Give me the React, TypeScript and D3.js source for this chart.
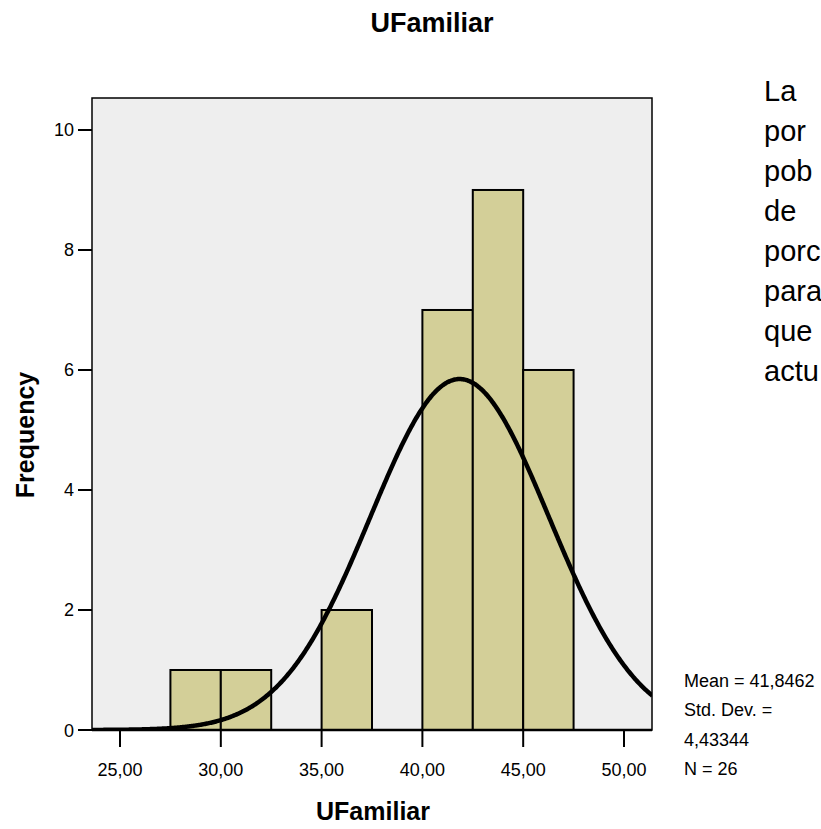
import { useMemo } from 'react';
import * as d3 from 'd3';

// histogram bins (lower edge) and frequencies
const binStarts = [27.5, 30, 35, 40, 42.5, 45];
const counts = [1, 1, 2, 7, 9, 6];
const binWidth = 2.5;

const xTicks = [25, 30, 35, 40, 45, 50];
const yTicks = [0, 2, 4, 6, 8, 10];

const mean = 41.8462;
const stdDev = 4.43344;
const n = 26;

const statLines = ['Mean = 41,8462', 'Std. Dev. =', '4,43344', 'N = 26'];
const sideText = ['La', 'por', 'pob', 'de', 'porc', 'para', 'que', 'actu'];

const W = 821;
const H = 829;
const plot = { left: 92, right: 652, top: 98, bottom: 730 };
const FONT = '"Liberation Sans", Arial, sans-serif';

const esLocale = d3.formatLocale({ decimal: ',', thousands: '.', grouping: [3], currency: ['', ''] });
const fmt2 = esLocale.format('.2f');

export default function App() {
  const x = d3.scaleLinear().domain([23.61, 51.39]).range([plot.left, plot.right]);
  const y = d3.scaleLinear().domain([0, 10.533]).range([plot.bottom, plot.top]);

  const curvePath = useMemo(() => {
    const [x0, x1] = x.domain();
    const scale = (n * binWidth) / (stdDev * Math.sqrt(2 * Math.PI));
    const pts = d3.range(x0, x1 + 0.05, 0.05).map((v) => [v, scale * Math.exp(-0.5 * ((v - mean) / stdDev) ** 2)] as [number, number]);
    return (
      d3
        .line<[number, number]>()
        .x((d) => x(d[0]))
        .y((d) => y(d[1]))
        .curve(d3.curveMonotoneX)(pts) ?? ''
    );
  }, []);

  return (
    <div style={{ position: 'absolute', left: 0, top: 0 }}>
      <svg width={W} height={H} style={{ display: 'block', fontFamily: FONT }}>
        <defs>
          <clipPath id="plotClip">
            <rect x={plot.left} y={plot.top} width={plot.right - plot.left} height={plot.bottom - plot.top} />
          </clipPath>
        </defs>
        <rect width={W} height={H} fill="#ffffff" />

        <text x={432} y={32} textAnchor="middle" fontSize={27} fontWeight="bold">
          UFamiliar
        </text>

        {/* plot background */}
        <rect
          x={plot.left}
          y={plot.top}
          width={plot.right - plot.left}
          height={plot.bottom - plot.top}
          fill="#eeeeee"
        />

        {binStarts.map((b, i) => (
          <rect
            key={i}
            x={x(b)}
            y={y(counts[i])}
            width={x(b + binWidth) - x(b)}
            height={y(0) - y(counts[i])}
            fill="#d3cf98"
            stroke="#000"
            strokeWidth={2}
          />
        ))}

        <path d={curvePath} fill="none" stroke="#000" strokeWidth={4.5} clipPath="url(#plotClip)" />

        {/* frame */}
        <rect
          x={plot.left}
          y={plot.top}
          width={plot.right - plot.left}
          height={plot.bottom - plot.top}
          fill="none"
          stroke="#000"
          strokeWidth={1.5}
        />
        <line x1={plot.left} x2={plot.right} y1={plot.bottom} y2={plot.bottom} stroke="#000" strokeWidth={2.5} />

        {/* y axis */}
        {yTicks.map((t) => (
          <g key={t}>
            <line x1={plot.left - 14} x2={plot.left} y1={y(t)} y2={y(t)} stroke="#000" strokeWidth={2} />
            <text x={plot.left - 18} y={y(t) + 6.5} textAnchor="end" fontSize={18}>
              {t}
            </text>
          </g>
        ))}

        {/* x axis */}
        {xTicks.map((t) => (
          <g key={t}>
            <line x1={x(t)} x2={x(t)} y1={plot.bottom} y2={plot.bottom + 17} stroke="#000" strokeWidth={2} />
            <text x={x(t)} y={776} textAnchor="middle" fontSize={18}>
              {fmt2(t)}
            </text>
          </g>
        ))}

        <text x={373} y={820} textAnchor="middle" fontSize={25} fontWeight="bold">
          UFamiliar
        </text>
        <text transform="translate(34,435) rotate(-90)" textAnchor="middle" fontSize={25} fontWeight="bold">
          Frequency
        </text>

        {statLines.map((s, i) => (
          <text key={i} x={684} y={687 + i * 29.4} fontSize={18}>
            {s}
          </text>
        ))}

        {sideText.map((s, i) => (
          <text key={i} x={764} y={101 + i * 40} fontSize={29}>
            {s}
          </text>
        ))}
      </svg>
    </div>
  );
}
